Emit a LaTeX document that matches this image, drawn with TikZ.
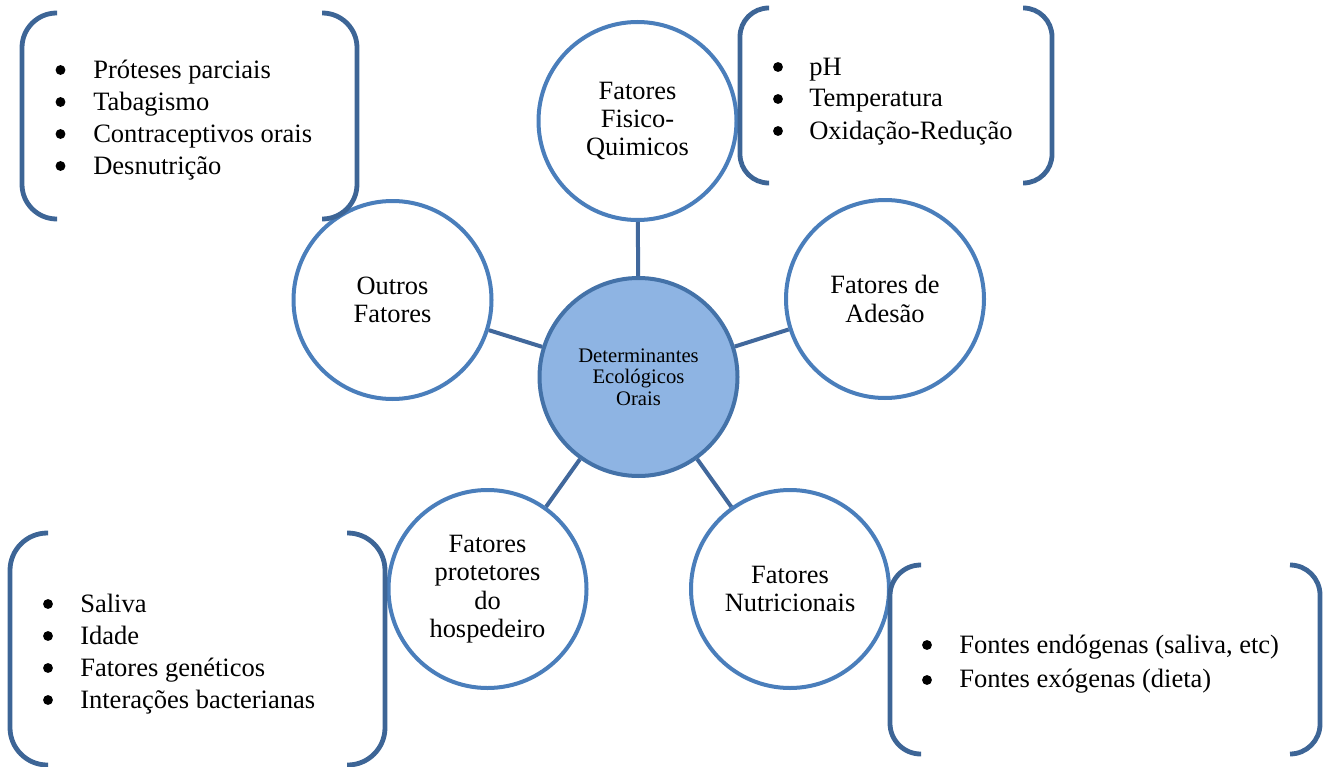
\documentclass[tikz,border=0pt]{standalone}
\usepackage{fontspec}
\setmainfont{Liberation Serif}
\definecolor{ringblue}{HTML}{4A7EBB}
\definecolor{hubfill}{HTML}{8EB4E3}
\definecolor{hubring}{HTML}{4472A8}
\definecolor{linkblue}{HTML}{41689C}
\definecolor{brkblue}{HTML}{3D6596}
\begin{document}
\begin{tikzpicture}[x=0.75pt,y=-0.75pt,
  ring/.style={circle, draw=ringblue, line width=3pt, fill=white, minimum size=148.5pt,
    inner sep=0pt, align=center, font=\fontsize{19.8}{21.3}\selectfont},
  hub/.style={ring, fill=hubfill, draw=hubring, font=\fontsize{15.5}{16.1}\selectfont},
  link/.style={draw=linkblue, line width=3pt},
  brk/.style={draw=brkblue, line width=3.6pt, rounded corners=#1},
  listtxt/.style={anchor=base west, inner sep=0pt, font=\fontsize{19.9}{24}\selectfont},
  listwide/.style={anchor=base west, inner sep=0pt, font=\fontsize{19.9}{26}\selectfont}]
\useasboundingbox (0,0) rectangle (1331,767);

% circles
\node[hub]  (c)  at (638.5,377) {Determinantes\\Ecológicos\\Orais};
\node[ring] (t)  at (637.5,121) {Fatores\\Fisico-\\Quimicos};
\node[ring] (r)  at (885,299)   {Fatores de\\Adesão};
\node[ring] (br) at (790,589)   {Fatores\\Nutricionais};
\node[ring] (bl) at (487.5,589) {Fatores\\protetores\\do\\hospedeiro};
\node[ring] (l)  at (392.5,300) {Outros\\Fatores};

% connectors
\draw[link] (c) -- (t);
\draw[link] (c) -- (r);
\draw[link] (c) -- (br);
\draw[link] (c) -- (bl);
\draw[link] (c) -- (l);

% brackets
\draw[brk=26pt] (57,13) -- (22,13) -- (22,219) -- (57,219);
\draw[brk=26pt] (322,13) -- (357,13) -- (357,219) -- (322,219);
\draw[brk=21.5pt] (769,8) -- (740,8) -- (740,183) -- (769,183);
\draw[brk=21.5pt] (1023,8) -- (1052,8) -- (1052,183) -- (1023,183);
\draw[brk=28pt] (48,533) -- (10,533) -- (10,765) -- (48,765);
\draw[brk=28pt] (347,533) -- (385,533) -- (385,765) -- (347,765);
\draw[brk=23pt] (921,565) -- (890,565) -- (890,754) -- (921,754);
\draw[brk=22.5pt] (1290,565) -- (1320,565) -- (1320,754) -- (1290,754);

% lists
\node[listtxt] (lt) at (93,79) {\begin{tabular}[t]{@{}l@{}}Próteses parciais\\Tabagismo\\Contraceptivos orais\\Desnutrição\end{tabular}};
\foreach \yy in {70,102,134,166} \fill (60.5,\yy) circle[radius=3.7pt];

\node[listtxt] (rt) at (809,75) {\begin{tabular}[t]{@{}l@{}}pH\\Temperatura\\Oxidação-Redução\end{tabular}};
\foreach \yy in {67,99,131} \fill (778,\yy) circle[radius=3.7pt];

\node[listtxt] (lb) at (80,612) {\begin{tabular}[t]{@{}l@{}}Saliva\\Idade\\Fatores genéticos\\Interações bacterianas\end{tabular}};
\foreach \yy in {604,636,668,700} \fill (48,\yy) circle[radius=3.7pt];

\node[listwide] (rb) at (959,653) {\begin{tabular}[t]{@{}l@{}}Fontes endógenas (saliva, etc)\\Fontes exógenas (dieta)\end{tabular}};
\foreach \yy in {645,680} \fill (927,\yy) circle[radius=3.7pt];
\end{tikzpicture}
\end{document}
